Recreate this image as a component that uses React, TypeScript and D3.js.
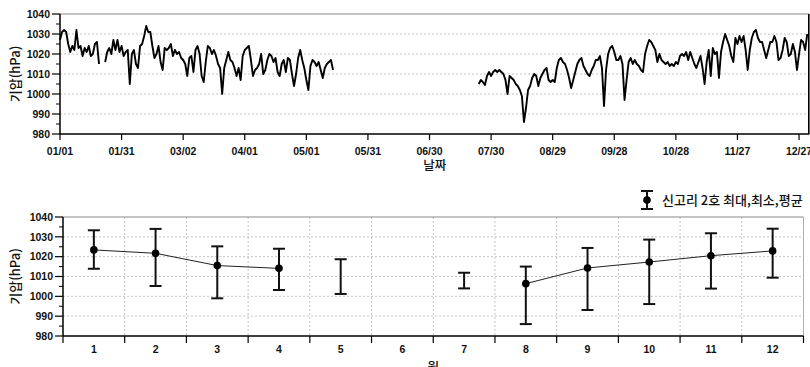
import React from "react";
import * as d3 from "d3";

const W = 810;
const H = 367;

// top chart: daily pressure (hPa), three recorded stretches
const dateTickLabels = ["01/01", "01/31", "03/02", "04/01", "05/01", "05/31", "06/30", "07/30", "08/29", "09/28", "10/28", "11/27", "12/27"];
const pressureTicks = [980, 990, 1000, 1010, 1020, 1030, 1040];

const janStart = 0;
const janPressure = [1027, 1031, 1032, 1031, 1025, 1021, 1024, 1022, 1032, 1023, 1024, 1019, 1023, 1021, 1024, 1019, 1020, 1025, 1026, 1015];

const febStart = 22;
const febPressure = [
  1016, 1021, 1023, 1020, 1027, 1022, 1027, 1021, 1024, 1019,
  1021, 1022, 1005, 1020, 1022, 1015, 1013, 1024, 1025, 1029,
  1034, 1031, 1031, 1024, 1018, 1020, 1024, 1016, 1012, 1023,
  1022, 1023, 1025, 1019, 1022, 1020, 1021, 1018, 1017, 1015,
  1009, 1018, 1019, 1011, 1022, 1024, 1020, 1009, 1006, 1016,
  1024, 1023, 1020, 1022, 1019, 1015, 1013, 1000, 1013, 1017,
  1021, 1017, 1016, 1013, 1009, 1013, 1007, 1019, 1022, 1023,
  1024, 1017, 1009, 1012, 1013, 1015, 1020, 1010, 1012, 1017,
  1020, 1019, 1016, 1018, 1011, 1009, 1015, 1017, 1011, 1018,
  1017, 1010, 1004, 1010, 1018, 1022, 1017, 1013, 1007, 1002,
  1014, 1017, 1016, 1014, 1016, 1012, 1008, 1013, 1015, 1016,
  1017, 1012,
];

const julStart = 204;
const julPressure = [
  1005, 1007, 1006, 1004.5, 1009, 1011, 1009, 1011, 1012, 1011,
  1012, 1011, 1010, 1007, 1000, 1009, 1008, 1007, 1005, 1004,
  1002, 999, 986, 993, 1002, 1004, 1008, 1010, 1009, 1004,
  1008, 1010, 1012, 1013, 1007, 1006, 1007, 1006, 1013, 1017,
  1018, 1016, 1015, 1012, 1008, 1003, 1007, 1011, 1015, 1017,
  1018, 1014, 1012, 1010, 1009, 1012, 1014, 1017, 1017, 1019,
  1013, 994, 1012, 1020, 1023, 1024, 1021, 1017, 1017, 1019,
  1015, 997, 1007, 1016, 1018, 1015, 1017, 1015, 1014, 1012,
  1011, 1020, 1024, 1027, 1026, 1024, 1022, 1016, 1020, 1017,
  1016, 1015, 1016, 1014, 1015, 1014, 1016, 1015, 1019, 1020,
  1019, 1021, 1017, 1021, 1018, 1015, 1013, 1016, 1019, 1013,
  1005, 1016, 1022, 1009, 1023, 1020, 1021, 1008, 1021, 1026,
  1030, 1027, 1024, 1019, 1016, 1028, 1025, 1029, 1026, 1029,
  1022, 1012, 1022, 1028, 1031, 1032, 1028, 1026, 1026, 1022,
  1018, 1022, 1026, 1026, 1029, 1026, 1017, 1018, 1022, 1028,
  1026, 1019, 1020, 1025, 1021, 1012, 1020, 1027, 1026, 1022,
  1030,
];

// bottom chart: monthly max / min / mean
const months = [1, 2, 3, 4, 5, 6, 7, 8, 9, 10, 11, 12];
const monthMean = [1023.4, 1021.7, 1015.5, 1014.1, null, null, null, 1006.4, 1014.3, 1017.3, 1020.5, 1022.9];
const monthMax = [1033.3, 1034.0, 1025.2, 1024.0, 1018.7, null, 1011.9, 1015.0, 1024.4, 1028.6, 1031.8, 1034.1];
const monthMin = [1013.9, 1005.2, 999.0, 1003.2, 1001.2, null, 1004.0, 986.0, 993.1, 996.1, 1003.9, 1009.4];
const legendLabel = "신고리 2호 최대,최소,평균";

const tickFont = "'Liberation Sans', Arial, sans-serif";
const krFont = "'Noto Sans CJK KR', 'Noto Sans', sans-serif";
const gridColor = "#c4c4c4";

type Pt = { day: number; v: number | null };

function segment(start: number, vals: number[]): Pt[] {
  return vals.map((v, i) => ({ day: start + i, v }));
}

const series: Pt[] = [
  ...segment(janStart, janPressure),
  { day: janStart + janPressure.length, v: null },
  ...segment(febStart, febPressure),
  { day: febStart + febPressure.length, v: null },
  ...segment(julStart, julPressure),
];

function YAxis({ y, x0, title }: { y: d3.ScaleLinear<number, number>; x0: number; title: string }) {
  const [lo, hi] = y.domain();
  const minor = d3.range(lo + 5, hi, 10);
  const mid = (y(lo) + y(hi)) / 2;
  return (
    <g>
      <line x1={x0} x2={x0} y1={y(hi)} y2={y(lo)} stroke="#000" strokeWidth={1.5} />
      {pressureTicks.map((t) => (
        <g key={t}>
          <line x1={x0 - 8} x2={x0} y1={y(t)} y2={y(t)} stroke="#000" strokeWidth={1.2} />
          <text x={x0 - 10} y={y(t)} dy="0.35em" textAnchor="end" fontFamily={tickFont} fontWeight="bold" fontSize={10.5} fill="#111">
            {t}
          </text>
        </g>
      ))}
      {minor.map((t) => (
        <line key={t} x1={x0 - 4} x2={x0} y1={y(t)} y2={y(t)} stroke="#000" strokeWidth={1} />
      ))}
      <text transform={`translate(15,${mid}) rotate(-90)`} textAnchor="middle" dy="0.35em" fontFamily={krFont} fontWeight={500} fontSize={13} fill="#111">
        {title}
      </text>
    </g>
  );
}

function TopChart() {
  const left = 60;
  const right = 809.3;
  const top = 14;
  const bottom = 134;
  const x = d3.scaleLinear().domain([0, 365]).range([left, right]);
  const y = d3.scaleLinear().domain([980, 1040]).range([bottom, top]);
  const line = d3
    .line<Pt>()
    .defined((d) => d.v != null)
    .x((d) => x(d.day))
    .y((d) => y(d.v as number));

  return (
    <g>
      {pressureTicks.slice(1, -1).map((t) => (
        <line key={t} x1={left} x2={right} y1={y(t)} y2={y(t)} stroke={gridColor} strokeDasharray="2,2" />
      ))}
      <line x1={left} x2={right} y1={top} y2={top} stroke="#8a8a8a" strokeWidth={1.2} />
      <line x1={right - 0.5} x2={right - 0.5} y1={top} y2={bottom} stroke="#000" strokeWidth={1.6} />
      <path d={line(series) ?? ""} fill="none" stroke="#000" strokeWidth={1.9} strokeLinejoin="round" />
      <line x1={left} x2={right} y1={bottom} y2={bottom} stroke="#000" strokeWidth={1.5} />
      {dateTickLabels.map((lab, i) => (
        <g key={lab}>
          <line x1={x(i * 30)} x2={x(i * 30)} y1={bottom} y2={bottom + 6} stroke="#000" strokeWidth={1.2} />
          <text x={x(i * 30)} y={155} textAnchor="middle" fontFamily={tickFont} fontWeight="bold" fontSize={10.5} fill="#111">
            {lab}
          </text>
        </g>
      ))}
      <text x={(left + right) / 2} y={170} textAnchor="middle" fontFamily={krFont} fontWeight={500} fontSize={12.5} fill="#111">
        날짜
      </text>
      <YAxis y={y} x0={left} title="기압(hPa)" />
    </g>
  );
}

function BottomChart() {
  const left = 63;
  const right = 803.5;
  const top = 217;
  const bottom = 336;
  const x = d3.scaleBand<number>().domain(months).range([left, right]).padding(0);
  const y = d3.scaleLinear().domain([980, 1040]).range([bottom, top]);
  const cx = (m: number) => (x(m) as number) + x.bandwidth() / 2;
  const rows = months.map((m, i) => ({ m, mean: monthMean[i], max: monthMax[i], min: monthMin[i] }));
  const meanLine = d3
    .line<(typeof rows)[number]>()
    .defined((d) => d.mean != null)
    .x((d) => cx(d.m))
    .y((d) => y(d.mean as number));
  const cap = 6;

  return (
    <g>
      {pressureTicks.slice(1, -1).map((t) => (
        <line key={t} x1={left} x2={right} y1={y(t)} y2={y(t)} stroke={gridColor} strokeDasharray="2,2" />
      ))}
      {months.slice(1).map((m) => (
        <line key={m} x1={x(m)} x2={x(m)} y1={top} y2={bottom} stroke={gridColor} strokeDasharray="2,2" />
      ))}
      <line x1={left} x2={right} y1={top} y2={top} stroke="#8a8a8a" strokeWidth={1.2} />
      <line x1={right} x2={right} y1={top} y2={bottom} stroke="#b0b0b0" strokeWidth={1} />
      <path d={meanLine(rows) ?? ""} fill="none" stroke="#222" strokeWidth={1} />
      {rows
        .filter((d) => d.max != null && d.min != null)
        .map((d) => (
          <g key={d.m} stroke="#111" strokeWidth={2}>
            <line x1={cx(d.m)} x2={cx(d.m)} y1={y(d.max as number)} y2={y(d.min as number)} />
            <line x1={cx(d.m) - cap} x2={cx(d.m) + cap} y1={y(d.max as number)} y2={y(d.max as number)} />
            <line x1={cx(d.m) - cap} x2={cx(d.m) + cap} y1={y(d.min as number)} y2={y(d.min as number)} />
          </g>
        ))}
      {rows
        .filter((d) => d.mean != null)
        .map((d) => (
          <circle key={d.m} cx={cx(d.m)} cy={y(d.mean as number)} r={3.8} fill="#000" />
        ))}
      <line x1={left} x2={right} y1={bottom} y2={bottom} stroke="#000" strokeWidth={1.5} />
      {[...months, 13].map((m, i) => {
        const xx = i < 12 ? (x(m) as number) : right;
        return <line key={m} x1={xx} x2={xx} y1={bottom} y2={bottom + 7} stroke="#000" strokeWidth={1.2} />;
      })}
      {months.map((m) => (
        <text key={m} x={cx(m)} y={353} textAnchor="middle" fontFamily={tickFont} fontWeight="bold" fontSize={10.5} fill="#111">
          {m}
        </text>
      ))}
      <text x={(left + right) / 2} y={372} textAnchor="middle" fontFamily={krFont} fontWeight={500} fontSize={13} fill="#111">
        월
      </text>
      <YAxis y={y} x0={left} title="기압(hPa)" />
      <g stroke="#111" strokeWidth={2}>
        <line x1={647} x2={647} y1={191} y2={209} />
        <line x1={641} x2={653} y1={191} y2={191} />
        <line x1={641} x2={653} y1={209} y2={209} />
      </g>
      <circle cx={647} cy={200} r={3.8} fill="#000" />
      <text x={662} y={200} dy="0.35em" fontFamily={krFont} fontWeight={500} fontSize={13} fill="#111">
        {legendLabel}
      </text>
    </g>
  );
}

export default function App() {
  return (
    <svg width={W} height={H} style={{ position: "absolute", left: 0, top: 0, background: "#fff" }}>
      <rect width={W} height={H} fill="#fff" />
      <TopChart />
      <BottomChart />
    </svg>
  );
}
